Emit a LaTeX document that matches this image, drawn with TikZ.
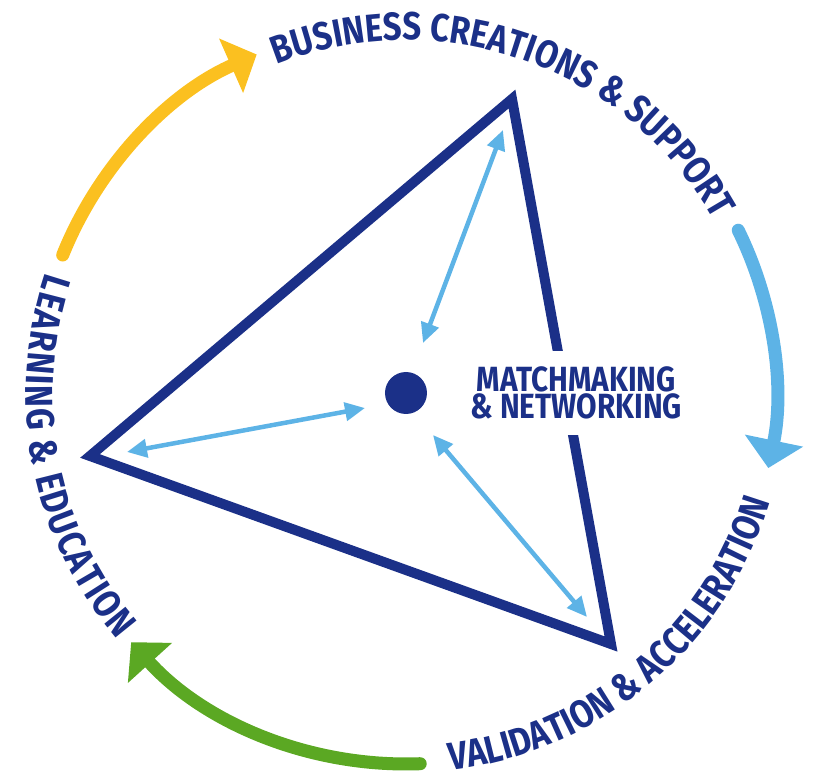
\documentclass[tikz,border=0pt]{standalone}
\usepackage{fontspec}
\newfontfamily\ringfont{Fira Sans}[FakeStretch=0.85]
\usetikzlibrary{arrows.meta,decorations.text,positioning}
\definecolor{navy}{HTML}{1B3088}
\definecolor{skyblue}{HTML}{5DB3E6}
\definecolor{sunyellow}{HTML}{FBC020}
\definecolor{leafgreen}{HTML}{5BA823}
\newcommand\ringlabel{\ringfont\bfseries\fontsize{39}{40}\selectfont}

\begin{document}
\begin{tikzpicture}[x=1pt,y=1pt,
    ring/.style={decorate, decoration={text along path, text align=center, text color=navy, text={|\ringlabel|#1}}}]
    \tikzstyle{flow}=[line width=13pt, line cap=round, -{Triangle[length=28pt,width=58pt]}]
    \tikzstyle{link}=[skyblue, line width=4.5pt, {Triangle[length=20pt,width=18pt]}-{Triangle[length=20pt,width=18pt]}]
    \useasboundingbox (-406,-386) rectangle (414,393);
    \node[circle, fill=navy, minimum size=42pt, inner sep=0] (hub) at (0,0) {};
    \coordinate (vtop) at (106,294);
    \coordinate (vleft) at (-316,-63);
    \coordinate (vbot) at (205,-251);
    \draw[navy, line width=10pt, line join=miter] (vtop) -- (vleft) -- (vbot) -- cycle;
    \node[right=40pt of hub, fill=white, inner xsep=3pt, inner ysep=16pt, align=center, text=navy,
      font=\ringfont\bfseries\fontsize{35}{25}\selectfont] (match) {MATCHMAKING\\\& NETWORKING};
    \coordinate (upin) at (17,50);
    \coordinate (upout) at (97,263);
    \coordinate (lfin) at (-41,-15);
    \coordinate (lfout) at (-279,-59);
    \coordinate (dnin) at (27,-42);
    \coordinate (dnout) at (181,-224);
    \draw[link] (upin) -- (upout);
    \draw[link] (lfin) -- (lfout);
    \draw[link] (dnin) -- (dnout);
    \draw[flow, sunyellow] (158.1:370) arc[start angle=158.1, end angle=113.8, radius=370];
    \draw[flow, skyblue] (26.1:370) arc[start angle=26.1, end angle=-11.7, radius=370];
    \draw[flow, leafgreen] (-87.8:371) arc[start angle=-87.8, end angle=-137.8, radius=371];
    \path[ring={BUSINESS CREATIONS {\&} SUPPORT}] (112.4:353) arc[start angle=112.4, end angle=28.4, radius=353];
    \path[ring={VALIDATION {\&} ACCELERATION}] (-83.6:380) arc[start angle=-83.6, end angle=-16.3, radius=380];
    \path[ring={LEARNING {\&} EDUCATION}, decoration={text align=fit to path}] (161.5:380) arc[start angle=161.5, end angle=220.5, radius=380];
\end{tikzpicture}
\end{document}
